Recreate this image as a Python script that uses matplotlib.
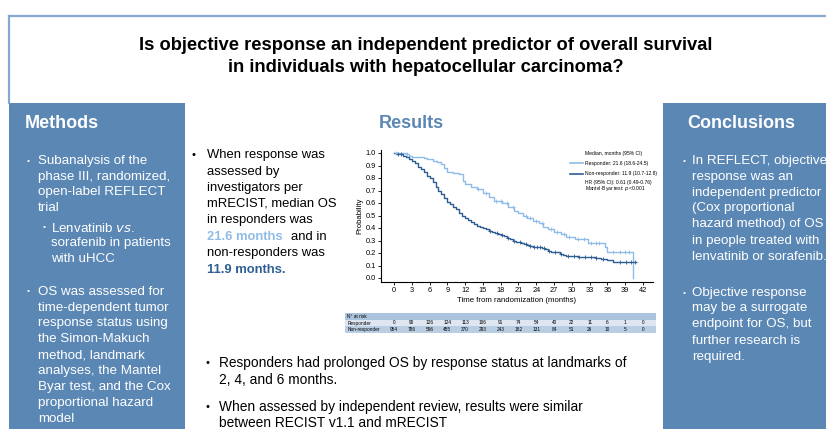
import matplotlib
matplotlib.use("Agg")
import matplotlib.pyplot as plt
from matplotlib.patches import Rectangle
from matplotlib.lines import Line2D
import numpy as np

W, H = 826, 429

# Kaplan-Meier style step data (months, survival probability)
resp_t = [0, 2.0, 2.5, 3.0, 5.0, 5.5, 6.5, 7.2, 8.0, 8.5, 9.0, 10.0, 11.0, 11.6, 12.0,
          13.0, 14.0, 15.0, 16.0, 16.8, 18.3, 19.2, 20.3, 21.0, 21.8, 22.5, 23.5, 24.5,
          25.2, 26.0, 27.0, 28.2, 29.0, 30.5, 32.8, 35.6, 36.0, 40.4]
resp_s = [1.0, 0.99, 0.975, 0.97, 0.96, 0.95, 0.94, 0.93, 0.91, 0.88, 0.85, 0.84, 0.83, 0.78, 0.75,
          0.73, 0.71, 0.68, 0.65, 0.62, 0.60, 0.57, 0.54, 0.52, 0.50, 0.48, 0.46, 0.44,
          0.41, 0.39, 0.37, 0.35, 0.33, 0.31, 0.28, 0.25, 0.21, 0.0]
resp_cens = [0.4, 2.2, 14.2, 15.5, 17.2, 18.0, 19.0, 20.0, 22.2, 23.0, 24.0, 25.0, 26.5,
             27.5, 28.6, 29.5, 31.0, 32.0, 33.2, 34.0, 34.6, 37.0, 38.2, 39.0, 39.6]

non_t = [0, 0.5, 1.0, 1.5, 2.0, 2.5, 3.0, 3.5, 4.0, 4.5, 5.0, 5.5, 6.0, 6.5, 7.0, 7.5, 8.0,
         8.5, 9.0, 9.5, 10.0, 10.5, 11.0, 11.5, 12.0, 12.5, 13.0, 13.5, 14.0, 14.5, 15.0,
         15.5, 16.0, 16.5, 17.0, 17.5, 18.0, 18.5, 19.0, 19.5, 20.0, 20.5, 21.0, 21.5, 22.0,
         22.5, 23.0, 23.5, 24.0, 25.0, 25.5, 26.0, 26.5, 27.0, 28.0, 28.5, 29.0, 30.0, 31.0,
         33.0, 34.0, 35.0, 36.0, 37.0, 40.8]
non_s = [1.0, 0.995, 0.99, 0.98, 0.97, 0.955, 0.94, 0.92, 0.89, 0.87, 0.85, 0.82, 0.80, 0.77,
         0.73, 0.70, 0.67, 0.64, 0.61, 0.59, 0.57, 0.55, 0.52, 0.50, 0.48, 0.465, 0.45, 0.43,
         0.42, 0.405, 0.40, 0.39, 0.38, 0.37, 0.36, 0.355, 0.345, 0.335, 0.32, 0.31, 0.30,
         0.29, 0.285, 0.28, 0.275, 0.265, 0.26, 0.25, 0.245, 0.24, 0.23, 0.22, 0.21, 0.205,
         0.195, 0.185, 0.18, 0.175, 0.17, 0.165, 0.16, 0.155, 0.145, 0.125, 0.125]
non_cens = [0.6, 1.1, 16.2, 17.3, 18.2, 19.2, 20.3, 21.3, 22.2, 23.0, 23.6, 24.2, 24.7, 25.3,
            26.2, 27.1, 28.2, 29.3, 30.3, 31.2, 32.2, 33.2, 34.1, 35.2, 38.2, 39.1, 40.0, 40.6]

risk_times = [0, 3, 6, 9, 12, 15, 18, 21, 24, 27, 30, 33, 36, 39, 42]
risk_resp = [0, 90, 126, 124, 113, 106, 91, 74, 54, 40, 22, 11, 6, 1, 0]
risk_non = [954, 786, 596, 455, 370, 293, 243, 182, 131, 84, 51, 26, 10, 5, 0]

C_PANEL = "#5b87b5"
C_RESP = "#8fbbe8"
C_NON = "#2d5d92"
C_FRAME = "#86a9d2"

plt.rcParams["font.family"] = ["Liberation Sans", "DejaVu Sans"]

fig = plt.figure(figsize=(W / 100, H / 100), dpi=100)


def fx(x):
    return x / W


def fy(y):
    return 1 - y / H


def ftext(x, y, s, **kw):
    kw.setdefault("va", "center")
    fig.text(fx(x), fy(y), s, **kw)


# frame and side panels
fig.add_artist(Line2D([fx(9), 1], [fy(16), fy(16)], color=C_FRAME, lw=1.6))
fig.add_artist(Line2D([fx(9), fx(9)], [fy(16), fy(103)], color=C_FRAME, lw=1.6))
fig.add_artist(Rectangle((fx(9), 0), fx(185 - 9), fy(103), color=C_PANEL, lw=0))
fig.add_artist(Rectangle((fx(663), 0), 1 - fx(663), fy(103), color=C_PANEL, lw=0))

# title
for y, s in [(46, "Is objective response an independent predictor of overall survival"),
             (67, "in individuals with hepatocellular carcinoma?")]:
    ftext(426, y, s, ha="center", fontsize=13.2, fontweight="bold")

# Methods
ftext(25, 123, "Methods", color="white", fontsize=13, fontweight="bold")
fs = 9.6
methods = [(27, 38, 161, True, "Subanalysis of the"), (27, 38, 177, False, "phase III, randomized,"),
           (27, 38, 192, False, "open-label REFLECT"), (27, 38, 208, False, "trial"),
           (43, 51, 228, True, "Lenvatinib $\\it{vs}$."), (43, 51, 243, False, "sorafenib in patients"),
           (43, 51, 259, False, "with uHCC"),
           (27, 38, 292, True, "OS was assessed for"), (27, 38, 308, False, "time-dependent tumor"),
           (27, 38, 323, False, "response status using"), (27, 38, 339, False, "the Simon-Makuch"),
           (27, 38, 355, False, "method, landmark"), (27, 38, 371, False, "analyses, the Mantel"),
           (27, 38, 387, False, "Byar test, and the Cox"), (27, 38, 403, False, "proportional hazard"),
           (27, 38, 419, False, "model")]
for bx, tx, y, bullet, s in methods:
    if bullet:
        ftext(bx, y, "•", color="white", fontsize=6)
    ftext(tx, y, s, color="white", fontsize=fs)

# Conclusions
ftext(687, 123, "Conclusions", color="white", fontsize=13, fontweight="bold")
concl = [(161, True, "In REFLECT, objective"), (177, False, "response was an"),
         (193, False, "independent predictor"), (208, False, "(Cox proportional"),
         (224, False, "hazard method) of OS"), (241, False, "in people treated with"),
         (257, False, "lenvatinib or sorafenib."),
         (293, True, "Objective response"), (308, False, "may be a surrogate"),
         (324, False, "endpoint for OS, but"), (341, False, "further research is"),
         (357, False, "required.")]
for y, bullet, s in concl:
    if bullet:
        ftext(683, y, "•", color="white", fontsize=6)
    ftext(692, y, s, color="white", fontsize=fs)

# Results
ftext(411, 123, "Results", color=C_PANEL, fontsize=13, fontweight="bold", ha="center")
res = [(155, "When response was"), (172, "assessed by"), (188, "investigators per"),
       (204, "mRECIST, median OS"), (220, "in responders was"), (253, "non-responders was")]
ftext(191, 155, "•", fontsize=8)
for y, s in res:
    ftext(207, y, s, fontsize=9.4)
ftext(207, 237, "21.6 months", fontsize=9.4, fontweight="bold", color=C_RESP)
ftext(291, 237, "and in", fontsize=9.4)
ftext(207, 270, "11.9 months.", fontsize=9.4, fontweight="bold", color=C_NON)

bottom = [(205, 219, 363, True, "Responders had prolonged OS by response status at landmarks of"),
          (205, 219, 380, False, "2, 4, and 6 months."),
          (205, 219, 407, True, "When assessed by independent review, results were similar"),
          (205, 219, 423, False, "between RECIST v1.1 and mRECIST")]
for bx, tx, y, bullet, s in bottom:
    if bullet:
        ftext(bx, y, "•", fontsize=8)
    ftext(tx, y, s, fontsize=9.9)

# KM chart
ax = fig.add_axes([fx(381), fy(282), fx(653 - 381), (282 - 150) / H])
ax.step(resp_t, resp_s, where="post", color=C_RESP, lw=1.0)
ax.step(non_t, non_s, where="post", color=C_NON, lw=1.0)


def surv_at(ts, ss, t):
    i = np.searchsorted(ts, t, side="right") - 1
    return ss[i]


ax.plot(resp_cens, [surv_at(resp_t, resp_s, t) for t in resp_cens], "+", color=C_RESP, ms=3, mew=0.6)
ax.plot(non_cens, [surv_at(non_t, non_s, t) for t in non_cens], "+", color=C_NON, ms=3, mew=0.6)
ax.set_xlim(-2.2, 43.7)
ax.set_ylim(-0.032, 1.024)
ax.set_xticks(risk_times)
ax.set_yticks(np.arange(0, 1.01, 0.1))
ax.yaxis.set_major_formatter(matplotlib.ticker.FormatStrFormatter("%.1f"))
ax.tick_params(labelsize=5.3, length=2, width=0.6, pad=1.5)
ax.spines[["top", "right"]].set_visible(False)
for sp in ["left", "bottom"]:
    ax.spines[sp].set_linewidth(0.8)
ax.set_xlabel("Time from randomization (months)", fontsize=5.6, labelpad=2)
ax.set_ylabel("Probability", fontsize=5.6, labelpad=2)
ax.patch.set_alpha(0)

# legend block
ftext(585, 154, "Median, months (95% CI)", fontsize=3.6)
fig.add_artist(Line2D([fx(570), fx(583)], [fy(163), fy(163)], color=C_RESP, lw=1.2))
ftext(585, 163, "Responder: 21.6 (18.6-24.5)", fontsize=3.6)
fig.add_artist(Line2D([fx(570), fx(583)], [fy(174), fy(174)], color=C_NON, lw=1.2))
ftext(585, 174, "Non-responder: 11.9 (10.7-12.8)", fontsize=3.6)
ftext(585, 182, "HR (95% CI): 0.61 (0.49-0.76)", fontsize=3.6)
ftext(585, 188, "Mantel-Byar test: $\\it{p}$ <0.001", fontsize=3.6)

# number at risk table
px_per_month = (643 - 394) / 42
tab = fig.add_axes([fx(345), fy(333), fx(656 - 345), 20 / H])
tab.set_xlim((345 - 394) / px_per_month, (656 - 394) / px_per_month)
tab.set_ylim(3, 0)
tab.axis("off")
for i, c in enumerate(["#abc3dc", "#dde6f1", "#b9cde3"]):
    tab.add_patch(Rectangle((tab.get_xlim()[0], i), tab.get_xlim()[1] - tab.get_xlim()[0], 1,
                            color=c, lw=0))
x0 = tab.get_xlim()[0] + 0.4
tab.text(x0, 0.5, "N° at risk", fontsize=3.4, va="center")
tab.text(x0, 1.5, "Responder", fontsize=3.4, va="center")
tab.text(x0, 2.5, "Non-responder", fontsize=3.4, va="center")
for t, r, n in zip(risk_times, risk_resp, risk_non):
    tab.text(t, 1.5, str(r), fontsize=3.4, va="center", ha="center")
    tab.text(t, 2.5, str(n), fontsize=3.4, va="center", ha="center")

fig.savefig("out.png", dpi=100)
